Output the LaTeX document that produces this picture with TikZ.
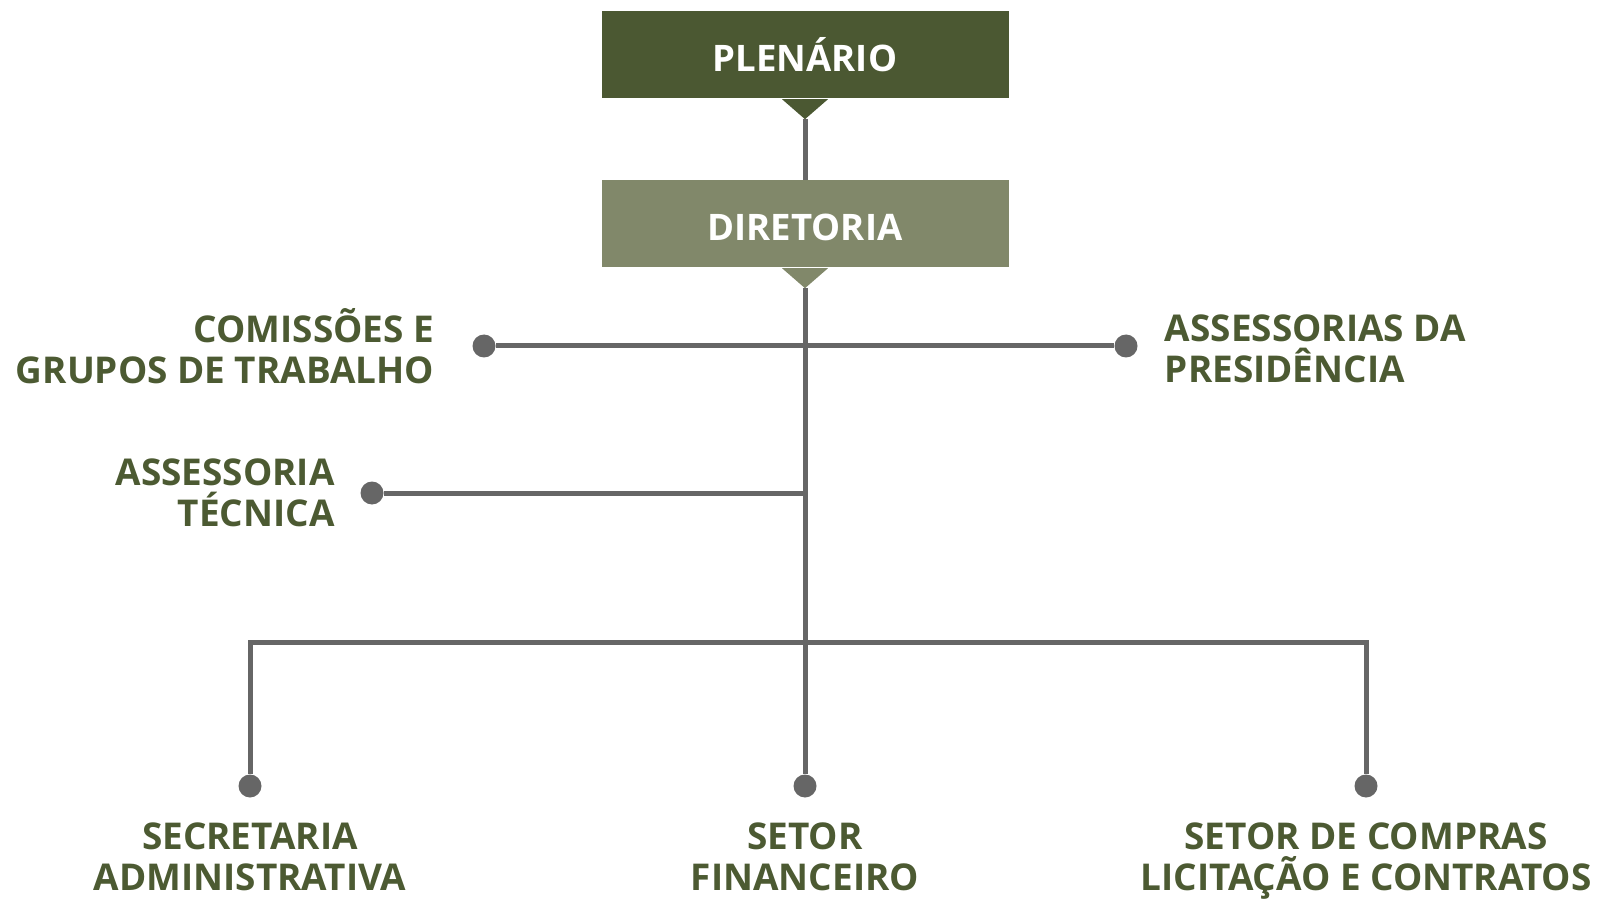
\documentclass[tikz,border=0pt]{standalone}
\usepackage{fontspec}
\setmainfont{Open Sans}
\usepackage{tikz}
\usetikzlibrary{positioning}
\definecolor{darkolive}{RGB}{75,88,50}
\definecolor{lightolive}{RGB}{129,136,106}
\definecolor{linegray}{RGB}{102,102,102}
\definecolor{labelgreen}{RGB}{76,90,50}

\begin{document}
\begin{tikzpicture}[x=0.1mm, y=-0.1mm,
	box/.style={minimum width=40.7mm, minimum height=8.7mm, inner sep=0, text height=3.4mm, text=white, font=\fontsize{10.4}{13}\selectfont\bfseries},
	dot/.style={circle, fill=linegray, minimum size=2.3mm, inner sep=0},
	lbl/.style={inner sep=0, text=labelgreen, font=\fontsize{10.5}{11.7}\selectfont\bfseries},
	link/.style={linegray, line width=0.5mm}]
	\useasboundingbox (0,0) rectangle (1600,900);

	% boxes
	\node[box, fill=darkolive] (plen) at (805,55) {PLENÁRIO};
	\node[box, fill=lightolive] (dir) at (805,224) {DIRETORIA};
	\fill[darkolive] ([xshift=-2.3mm]plen.south) -- ([xshift=2.3mm]plen.south) -- ([yshift=-2mm]plen.south) -- cycle;
	\fill[lightolive] ([xshift=-2.3mm]dir.south) -- ([xshift=2.3mm]dir.south) -- ([yshift=-2mm]dir.south) -- cycle;
	\coordinate (plentip) at ([yshift=-2mm]plen.south);
	\coordinate (dirtip) at ([yshift=-2mm]dir.south);

	% dots
	\node[dot] (dcom) at (484,346) {};
	\node[dot] (dpres) at (1126,346) {};
	\node[dot] (dtec) at (372,493) {};
	\node[dot] (dsec) at (250,786) {};
	\node[dot] (dfin) at (805,786) {};
	\node[dot] (dcomp) at (1366,786) {};
	\coordinate (bus) at (805,642);

	% labels
	\node[lbl, align=right, left=3.7mm of dcom] (com) {COMISSÕES E\\GRUPOS DE TRABALHO};
	\node[lbl, align=left, right=2.6mm of dpres, yshift=-0.3mm] (pres) {ASSESSORIAS DA\\PRESIDÊNCIA};
	\node[lbl, align=right, left=2.45mm of dtec] (tec) {ASSESSORIA\\TÉCNICA};
	\node[lbl, align=center, below=2.4mm of dsec] (sec) {SECRETARIA\\ADMINISTRATIVA};
	\node[lbl, align=center, below=2.4mm of dfin] (fin) {SETOR\\FINANCEIRO};
	\node[lbl, align=center, below=2.4mm of dcomp] (comp) {SETOR DE COMPRAS\\LICITAÇÃO E CONTRATOS};

	% trunk
	\draw[link] (plentip) -- (dir);
	\draw[link] (dirtip) -- (dfin);
	% side branches
	\draw[link] (dcom) -- (dpres);
	\draw[link] (dtec) -- (dtec -| bus);
	% bottom bus
	\draw[link] (dsec) |- (bus) -| (dcomp);
\end{tikzpicture}
\end{document}
